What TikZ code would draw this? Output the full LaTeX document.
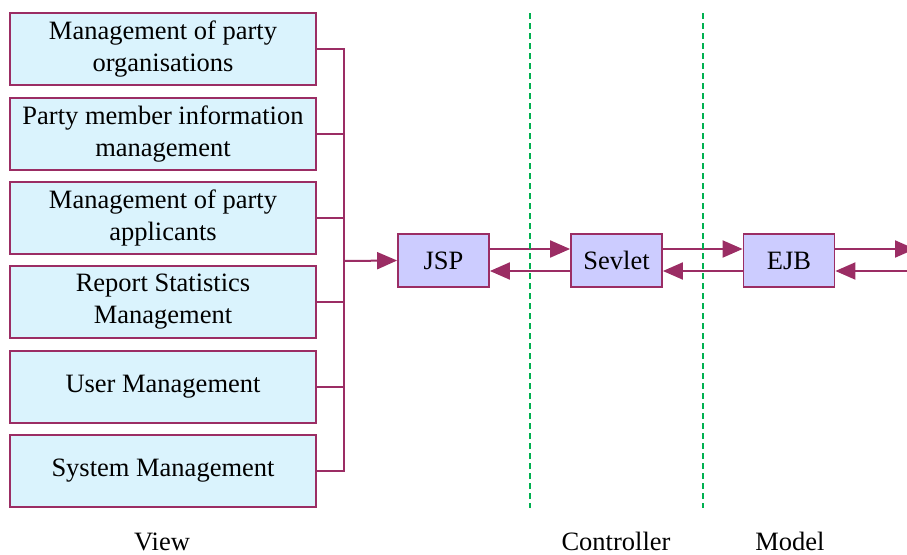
\documentclass[tikz,border=0pt]{standalone}
\usepackage{fontspec}
\setmainfont{Liberation Serif}
\usetikzlibrary{arrows.meta}
\definecolor{wine}{HTML}{9B2D64}
\definecolor{skyfill}{HTML}{DAF3FD}
\definecolor{lavfill}{HTML}{CCCCFF}
\definecolor{sepgreen}{HTML}{00B050}
\tikzset{
  viewbox/.style={draw=wine, line width=1.8pt, fill=skyfill, minimum width=306pt, minimum height=72pt,
    inner sep=0pt, align=center, font=\fontsize{26.5}{32}\selectfont},
  tierbox/.style={draw=wine, line width=1.8pt, fill=lavfill, minimum width=91pt, minimum height=53pt,
    inner sep=0pt, font=\fontsize{26.5}{30}\selectfont},
  link/.style={draw=wine, line width=2pt},
  flow/.style={draw=wine, line width=2pt, -{Triangle[length=20pt,width=17pt]}},
  divider/.style={draw=sepgreen, line width=1.4pt, dash pattern=on 6pt off 4pt},
  caption/.style={font=\fontsize{26.5}{30}\selectfont, inner sep=0pt, anchor=base}
}
\begin{document}
\begin{tikzpicture}[x=1pt,y=-1pt]
\useasboundingbox (0,0) rectangle (907,554);

% view modules
\node[viewbox] (m1) at (163,49)  {Management of party\\organisations};
\node[viewbox] (m2) at (163,134) {Party member information\\management};
\node[viewbox] (m3) at (163,218) {Management of party\\applicants};
\node[viewbox] (m4) at (163,302) {Report Statistics\\Management};
\node[viewbox] (m5) at (163,387) {User Management};
\node[viewbox] (m6) at (163,471) {System Management};

% collecting bus
\coordinate (bt) at (344,49);
\coordinate (bb) at (344,471);
\coordinate (bj) at (344,261);
\draw[link] (m1.east) -- (bt) -- (bb) -- (m6.east);
\foreach \m in {m2,m3,m4,m5} \draw[link] (\m.east) -- (\m.east -| bt);

% tiers
\node[tierbox] (jsp) at (443.5,260.5) {JSP};
\node[tierbox] (sev) at (616.5,260.5) {Sevlet};
\node[tierbox] (ejb) at (789,260.5) {EJB};

\draw[flow] (bj) -- (jsp.west);

% request (upper) and response (lower) lanes
\coordinate (up) at (0,249);
\coordinate (lo) at (0,271);
\draw[flow] (jsp.east |- up) -- (sev.west |- up);
\draw[flow] (sev.west |- lo) -- (jsp.east |- lo);
\draw[flow] (sev.east |- up) -- (ejb.west |- up);
\draw[flow] (ejb.west |- lo) -- (sev.east |- lo);

\coordinate (outA) at (915,249);
\coordinate (outB) at (907,271);
\draw[flow] (ejb.east |- up) -- (outA);
\draw[flow] (outB) -- (ejb.east |- lo);

% layer separators
\coordinate (d1t) at (530,13);
\coordinate (d1b) at (530,508);
\coordinate (d2t) at (703,13);
\coordinate (d2b) at (703,508);
\draw[divider] (d1t) -- (d1b);
\draw[divider] (d2t) -- (d2b);

% layer names
\node[caption] (lv) at (162,550) {View};
\node[caption] (lc) at (616,550) {Controller};
\node[caption] (lm) at (790,550) {Model};
\end{tikzpicture}
\end{document}
